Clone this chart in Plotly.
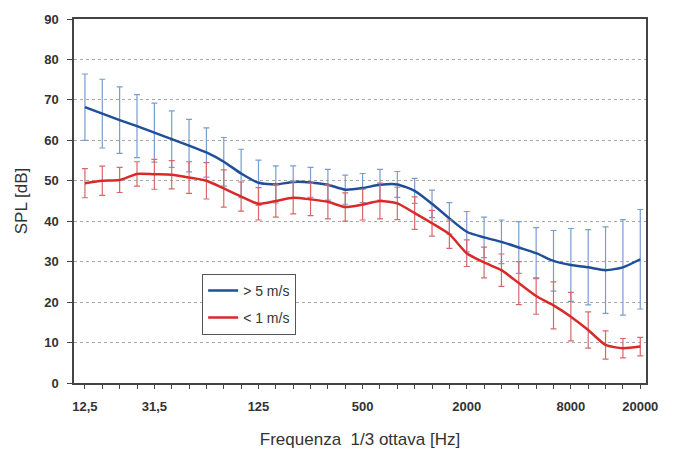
import plotly.graph_objects as go

bands = ["12,5", "16", "20", "25", "31,5", "40", "50", "63", "80", "100", "125", "160",
         "200", "250", "315", "400", "500", "630", "800", "1000", "1250", "1600", "2000",
         "2500", "3150", "4000", "5000", "6300", "8000", "10000", "12500", "16000", "20000"]
shown_labels = ["12,5", "31,5", "125", "500", "2000", "8000", "20000"]

windy_mean = [68.2, 66.6, 65.0, 63.5, 61.9, 60.3, 58.7, 57.0, 54.7, 51.8, 49.5, 49.1, 49.7,
              49.6, 49.0, 47.8, 48.2, 49.0, 49.1, 47.5, 44.3, 40.7, 37.4, 36.0, 34.9, 33.5,
              32.1, 30.2, 29.2, 28.6, 27.9, 28.6, 30.6]
windy_std = [8.2, 8.5, 8.2, 7.8, 7.3, 7.0, 6.5, 6.1, 6.0, 6.0, 5.6, 4.6, 4.0, 3.7, 3.8, 3.6,
             3.6, 3.8, 3.2, 3.1, 3.4, 3.9, 5.0, 5.0, 5.4, 6.4, 6.3, 7.5, 9.0, 9.3, 10.7, 11.8, 12.3]

calm_mean = [49.4, 50.0, 50.2, 51.7, 51.6, 51.5, 50.8, 50.0, 48.1, 46.1, 44.3, 45.0, 45.8,
             45.4, 44.8, 43.5, 44.1, 45.0, 44.4, 42.0, 39.5, 36.8, 32.1, 29.8, 27.9, 24.7,
             21.5, 19.2, 16.4, 13.1, 9.4, 8.6, 9.0]
calm_std = [3.6, 3.6, 3.1, 3.0, 3.7, 3.5, 3.9, 4.5, 4.6, 3.6, 4.0, 4.0, 4.0, 4.0, 4.2, 3.5,
            3.8, 4.4, 4.0, 4.0, 3.2, 3.5, 3.3, 3.8, 4.0, 5.3, 4.5, 5.8, 6.0, 4.5, 3.5, 2.4, 2.3]

series_names = ["> 5 m/s", "< 1 m/s"]

x = list(range(len(bands)))
ticktext = [b if b in shown_labels else "" for b in bands]

fig = go.Figure()
fig.add_trace(go.Scatter(
    x=x, y=windy_mean, mode="lines", name=series_names[0], legendgroup="a",
    line=dict(color="#1f4f99", width=2.5, shape="spline", smoothing=0.6),
    error_y=dict(type="data", array=windy_std, visible=True, color="#7a9dcf",
                 thickness=1.2, width=3),
))
fig.add_trace(go.Scatter(
    x=x, y=calm_mean, mode="lines", name=series_names[1], legendgroup="b",
    line=dict(color="#d92a2a", width=2.5, shape="spline", smoothing=0.6),
    error_y=dict(type="data", array=calm_std, visible=True, color="#d9676b",
                 thickness=1.2, width=3),
))

axis_font = dict(family="Arial, Liberation Sans, sans-serif", size=13, color="#333333", weight="bold")

fig.update_layout(
    width=686, height=450,
    margin=dict(l=74, r=40, t=19, b=67, autoexpand=False),
    paper_bgcolor="white", plot_bgcolor="white",
    font=dict(family="Arial, Liberation Sans, sans-serif", color="#333333"),
    showlegend=True,
    legend=dict(x=0.224, y=0.30, xanchor="left", yanchor="top",
                bordercolor="#555555", borderwidth=1, bgcolor="white",
                font=dict(size=14, color="#333333"),
                tracegroupgap=6),
    xaxis=dict(
        range=[-0.63, 32.33], tickmode="array", tickvals=x, ticktext=ticktext,
        ticks="outside", ticklen=4, tickcolor="#444444", tickfont=axis_font,
        showline=True, linecolor="#444444", linewidth=1.5, mirror=True,
        showgrid=False, zeroline=False, ticklabelstandoff=7, automargin=False,
        title=dict(text="Frequenza\u00a0 1/3 ottava [Hz]",
                   font=dict(size=17, color="#333333"), standoff=20),
    ),
    yaxis=dict(
        range=[0, 90], dtick=10, tick0=0,
        ticks="outside", ticklen=5, tickcolor="#444444", tickfont=axis_font,
        showline=True, linecolor="#444444", linewidth=1.5, mirror=True,
        showgrid=True, gridcolor="#a8a8a8", griddash="dot", gridwidth=1,
        zeroline=False, ticklabelstandoff=6, automargin=False,
        title=dict(text="SPL [dB]", font=dict(size=17, color="#333333"), standoff=12),
    ),
)

fig.write_html("out.html")
